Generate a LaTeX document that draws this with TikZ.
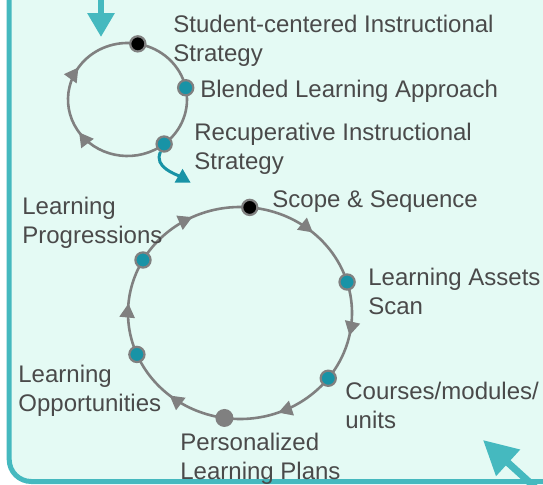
\documentclass[tikz,border=0pt]{standalone}
\usepackage{fontspec}
\setmainfont{Liberation Sans}
\usepackage{tikz}
\usetikzlibrary{arrows.meta, positioning, decorations.markings, backgrounds}
\definecolor{mint}{HTML}{E4FAF4}
\definecolor{frameteal}{HTML}{45B9BF}
\definecolor{dotteal}{HTML}{1893A6}
\definecolor{ringgray}{HTML}{808080}
\definecolor{labelgray}{HTML}{4A4A4A}
\tikzset{
  labelnode/.style={anchor=north west, inner sep=0pt, align=left, text=labelgray, font=\fontsize{12pt}{14.5pt}\selectfont},
  tealdot/.style={circle, draw=ringgray, line width=1.1pt, fill=dotteal, minimum size=7.6pt, inner sep=0pt},
  blackdot/.style={tealdot, fill=black},
  greydot/.style={circle, fill=ringgray, minimum size=9pt, inner sep=0pt},
  ringarc/.style={draw, color=ringgray, line width=1.3pt},
  midarrow/.style={ringarc, postaction={decorate}, decoration={markings, mark=at position 0.53 with {\arrow{Triangle[length=7pt, width=7.5pt]}}}},
  twoarrows/.style={ringarc, postaction={decorate}, decoration={markings, mark=at position 0.41 with {\arrow{Triangle[length=7pt, width=7.5pt]}}, mark=at position 0.71 with {\arrow{Triangle[length=7pt, width=7.5pt]}}}},
  flowarrow/.style={-{Triangle[length=12pt, width=13pt]}, draw=frameteal, line width=3pt},
  exitarrow/.style={-{Triangle[length=7pt, width=7.5pt]}, draw=dotteal, line width=1.5pt}
}

\begin{document}
\begin{tikzpicture}[x=0.5pt, y=0.5pt]
\useasboundingbox (0,0) rectangle (543,484);

% Ring centres
\coordinate (C1) at (127.5,384.5);
\coordinate (C2) at (240,171);

% Small ring dots
\node[blackdot] (SC) at ([shift={(80:59.5 and 56.5)}]C1) {};
\node[tealdot] (BL) at ([shift={(12:59.5 and 56.5)}]C1) {};
\node[tealdot] (RC) at ([shift={(-52:59.5 and 56.5)}]C1) {};

% Large ring dots
\node[blackdot] (SS) at ([shift={(85:112 and 106)}]C2) {};
\node[tealdot] (LA) at ([shift={(17:112 and 106)}]C2) {};
\node[tealdot] (CM) at ([shift={(-38:112 and 106)}]C2) {};
\node[greydot] (PL) at ([shift={(-98:112 and 106)}]C2) {};
\node[tealdot] (LO) at ([shift={(203:112 and 106)}]C2) {};
\node[tealdot] (LP) at ([shift={(150:112 and 106)}]C2) {};

% Labels
\node[labelnode] (SCL) at (173,469) {Student-centered Instructional\\Strategy};
\node[labelnode] (BLL) at (200,404) {Blended Learning Approach};
\node[labelnode] (RCL) at (194,361) {Recuperative Instructional\\Strategy};
\node[labelnode] (SSL) at (272,294) {Scope \& Sequence};
\node[labelnode] (LAL) at (368,216) {Learning Assets\\Scan};
\node[labelnode] (CML) at (345,102) {Courses/modules/\\units};
\node[labelnode] (PLL) at (180,51) {Personalized\\Learning Plans};
\node[labelnode] (LOL) at (18,119) {Learning\\Opportunities};
\node[labelnode] (LPL) at (22,287) {Learning\\Progressions};

% Free ends of the teal arrows
\coordinate (topin) at (101,492);
\coordinate (topout) at (101,447);
\coordinate (RCout) at (190.7,301.3);
\coordinate (cornerin) at (538,-6);
\coordinate (cornerout) at (483,44);

% Connections
\begin{scope}[on background layer]
\path[draw=frameteal, fill=mint, line width=2.5pt, rounded corners=11pt] (9.2,2.5) rectangle (580,530);
\draw[ringarc] (SC.center) arc[start angle=80, end angle=12, x radius=59.5, y radius=56.5];
\draw[ringarc] (BL.center) arc[start angle=12, end angle=-52, x radius=59.5, y radius=56.5];
\draw[twoarrows] (RC.center) arc[start angle=-52, end angle=-280, x radius=59.5, y radius=56.5];
\draw[midarrow] (SS.center) arc[start angle=85, end angle=17, x radius=112, y radius=106];
\draw[midarrow] (LA.center) arc[start angle=17, end angle=-38, x radius=112, y radius=106];
\draw[midarrow] (CM.center) arc[start angle=-38, end angle=-98, x radius=112, y radius=106];
\draw[midarrow] (PL.center) arc[start angle=-98, end angle=-157, x radius=112, y radius=106];
\draw[midarrow] (LO.center) arc[start angle=203, end angle=150, x radius=112, y radius=106];
\draw[midarrow] (LP.center) arc[start angle=150, end angle=85, x radius=112, y radius=106];
\end{scope}
\draw[flowarrow] (topin) -- (topout);
\draw[exitarrow] (RC) to[out=-115, in=150] (RCout);
\draw[flowarrow, line width=3.5pt, -{Triangle[length=17pt, width=17pt]}] (cornerin) -- (cornerout);

\end{tikzpicture}
\end{document}
